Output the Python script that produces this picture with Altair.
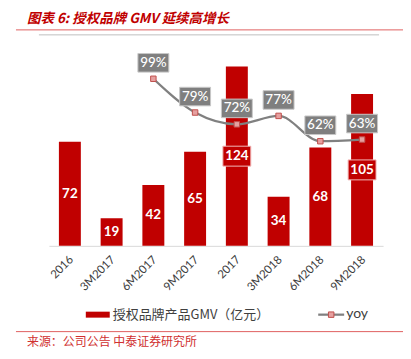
import altair as alt
import pandas as pd

categories = ["2016", "3M2017", "6M2017", "9M2017", "2017", "3M2018", "6M2018", "9M2018"]
gmv = [72, 19, 42, 65, 124, 34, 68, 105]
yoy = [None, None, 0.99, 0.79, 0.72, 0.77, 0.62, 0.63]
yoy_labels = ["", "", "99%", "79%", "72%", "77%", "62%", "63%"]

title_text = "图表 6: 授权品牌 GMV 延续高增长"
legend_bar = "授权品牌产品GMV（亿元）"
legend_line = "yoy"
source_text = "来源：公司公告  中泰证券研究所"

df = pd.DataFrame({"cat": categories, "gmv": gmv, "yoy": yoy, "yoy_label": yoy_labels})

RED = "#C00000"
GRAY = "#808080"
CJK = "Noto Sans CJK SC"
NUM = "Lato"

W, H = 335, 203

xenc = alt.X(
    "cat:N",
    sort=categories,
    scale=alt.Scale(paddingInner=0.475, paddingOuter=0.24),
    axis=alt.Axis(
        title=None, labelAngle=-45, labelAlign="right", labelBaseline="middle",
        labelPadding=12, labelOffset=2, ticks=False, domainColor="#D9D9D9",
        labelColor="#404040", labelFont=NUM, labelFontSize=11.5,
    ),
)
ybar = alt.Scale(domain=[0, 140], nice=False)
yline = alt.Scale(domain=[0, 1.2], nice=False)

base = alt.Chart(df)

bars = base.mark_bar(color=RED, size=22).encode(
    x=xenc, y=alt.Y("gmv:Q", scale=ybar, axis=None)
)

mid = base.transform_calculate(mid="datum.gmv / 2")

bar_boxes = mid.transform_filter("datum.gmv >= 100").mark_point(
    shape="M-1,-0.714L1,-0.714L1,0.714L-1,0.714Z", size=784, filled=True,
    fill=RED, stroke="#F2B8B8", strokeWidth=1, opacity=1,
).encode(x=xenc, y=alt.Y("mid:Q", scale=ybar, axis=None))

bar_text = mid.mark_text(
    color="white", font=NUM, fontWeight="bold", fontSize=13.5, baseline="middle"
).encode(x=xenc, y=alt.Y("mid:Q", scale=ybar, axis=None), text="gmv:Q")

ld = base.transform_filter("isValid(datum.yoy)")

line = ld.mark_line(color=GRAY, strokeWidth=2.25, interpolate="monotone").encode(
    x=xenc, y=alt.Y("yoy:Q", scale=yline, axis=None)
)
pts = ld.mark_point(
    shape="square", size=30, filled=True, fill="#E6A0A0", stroke="#C0504D",
    strokeWidth=1, opacity=1,
).encode(x=xenc, y=alt.Y("yoy:Q", scale=yline, axis=None))

yoy_boxes = ld.mark_point(
    shape="M-1,-0.6L1,-0.6L1,0.6L-1,0.6Z", size=961, filled=True,
    fill="#7F7F7F", stroke="#C8C8C8", strokeWidth=1, opacity=1, yOffset=-16,
).encode(x=xenc, y=alt.Y("yoy:Q", scale=yline, axis=None))

yoy_text = ld.mark_text(
    color="white", font=NUM, fontSize=13.5, fontWeight=500, baseline="middle", dy=-16
).encode(x=xenc, y=alt.Y("yoy:Q", scale=yline, axis=None), text="yoy_label:N")

one = alt.Chart(pd.DataFrame({"k": [0]}))

title = one.mark_text(
    text=title_text, font=CJK, fontSize=13.5, fontWeight="bold", fontStyle="italic",
    color=RED, align="left", baseline="middle",
).encode(x=alt.value(-22), y=alt.value(-24))

rule_red = one.mark_rule(color="#E06060", strokeWidth=1).encode(
    x=alt.value(-33), x2=alt.value(355), y=alt.value(-13.5)
)
rule_gray = one.mark_rule(color="#BFBFBF", strokeWidth=1).encode(
    x=alt.value(-10), x2=alt.value(331), y=alt.value(-8.5)
)

leg_rect = one.mark_rect(color=RED).encode(
    x=alt.value(37), x2=alt.value(61), y=alt.value(269), y2=alt.value(275)
)
leg_text = one.mark_text(
    text=legend_bar, font=CJK, fontSize=13, color="#404040", align="left", baseline="middle"
).encode(x=alt.value(64), y=alt.value(272))
leg_line = one.mark_rule(color=GRAY, strokeWidth=2.25).encode(
    x=alt.value(270), x2=alt.value(296), y=alt.value(272)
)
leg_pt = one.mark_point(
    shape="square", size=30, filled=True, fill="#E6A0A0", stroke="#C0504D",
    strokeWidth=1, opacity=1,
).encode(x=alt.value(283), y=alt.value(272))
leg_text2 = one.mark_text(
    text=legend_line, font=NUM, fontSize=14, color="#404040", align="left", baseline="middle"
).encode(x=alt.value(298), y=alt.value(271))

rule_bottom = one.mark_rule(color="#E06060", strokeWidth=1).encode(
    x=alt.value(-33), x2=alt.value(355), y=alt.value(289)
)
source = one.mark_text(
    text=source_text, font=CJK, fontSize=12, color="#D03030", align="left", baseline="middle"
).encode(x=alt.value(-22), y=alt.value(299))

chart = alt.layer(
    bars, bar_boxes, bar_text, line, pts, yoy_boxes, yoy_text,
    title, rule_red, rule_gray, leg_rect, leg_text, leg_line, leg_pt, leg_text2,
    rule_bottom, source,
).resolve_scale(y="independent").properties(
    width=W, height=H, autosize="none",
    padding={"left": 41, "top": 35, "right": 20, "bottom": 105},
).configure_view(strokeWidth=0)

chart.save("out.html", embed_options={"renderer": "svg", "actions": False})
